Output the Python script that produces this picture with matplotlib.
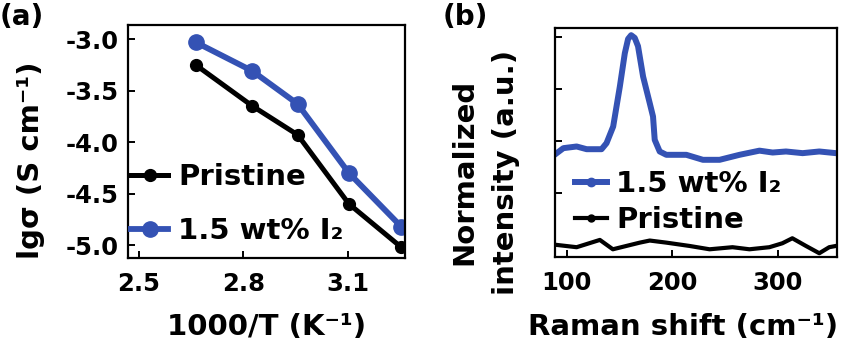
import matplotlib
matplotlib.use('Agg')
import matplotlib.pyplot as plt
from matplotlib.lines import Line2D

plt.rcParams['font.family'] = ['DejaVu Sans']
plt.rcParams['font.weight'] = 'bold'

# panel (a): conductivity vs inverse temperature
inv_t = [2.663, 2.826, 2.956, 3.103, 3.253]
lg_pristine = [-3.25, -3.65, -3.93, -4.60, -5.02]
lg_iodine = [-3.03, -3.31, -3.63, -4.30, -4.82]

# panel (b): raman spectra
raman_x_i2 = [90.6, 96.9, 109.4, 118.9, 133.0, 137.7, 144.0, 150.3, 155.0, 158.1,
              161.0, 164.4, 167.5, 172.3, 178.6, 181.7, 183.3, 188.0, 194.3, 213.2,
              228.9, 244.7, 263.5, 282.4, 294.9, 307.5, 323.2, 339.0, 354.7]
raman_y_i2 = [0.441, 0.465, 0.473, 0.460, 0.460, 0.489, 0.569, 0.761, 0.921, 0.990,
              1.008, 0.995, 0.955, 0.809, 0.681, 0.617, 0.505, 0.449, 0.433, 0.433,
              0.409, 0.409, 0.433, 0.453, 0.444, 0.449, 0.441, 0.449, 0.441]
raman_x_pr = [90.6, 109.4, 131.4, 143.7, 169.2, 178.6, 194.3, 216.3, 235.2, 256.9,
              272.9, 291.8, 304.1, 313.5, 326.4, 339.0, 348.4, 354.7]
raman_y_pr = [0.0, -0.011, 0.024, -0.021, 0.011, 0.021, 0.011, -0.005, -0.021, -0.011,
              -0.021, -0.011, 0.008, 0.032, -0.005, -0.040, -0.011, -0.005]

azul = '#3452b4'
fs_tick = 17.5
fs_label = 21
fs_leg = 21

fig = plt.figure(figsize=(8.5, 3.53), dpi=100)
ax1 = fig.add_axes([0.151, 0.269, 0.325, 0.660])
ax2 = fig.add_axes([0.653, 0.272, 0.332, 0.649])

# ---- (a)
ax1.plot(inv_t, lg_pristine, color='black', lw=3.6, marker='o', ms=8.5,
         solid_joinstyle='round')
ax1.plot(inv_t, lg_iodine, color=azul, lw=4.2, marker='o', ms=11,
         solid_joinstyle='round')
ax1.set_xlim(2.47, 3.263)
ax1.set_ylim(-5.126, -2.864)
ax1.set_xticks([2.5, 2.8, 3.1])
ax1.set_yticks([-3.0, -3.5, -4.0, -4.5, -5.0])
ax1.set_xticklabels(['2.5', '2.8', '3.1'])
ax1.set_yticklabels(['-3.0', '-3.5', '-4.0', '-4.5', '-5.0'])
ax1.set_xlabel('1000/T (K⁻¹)', fontsize=fs_label, fontweight='bold')
ax1.xaxis.set_label_coords(0.5, -0.296)
ax1.xaxis.label.set_va('center')
ax1.set_ylabel('lgσ (S cm⁻¹)', fontsize=fs_label, fontweight='bold')
ax1.yaxis.set_label_coords(-0.30, 0.42)
h1 = [Line2D([], [], color='black', lw=3.6, marker='o', ms=8.5),
      Line2D([], [], color=azul, lw=4.2, marker='o', ms=11)]
ax1.legend(h1, ['Pristine', '1.5 wt% I₂'], loc='lower left', frameon=False,
           fontsize=fs_leg, handlelength=1.25, handletextpad=0.35,
           borderaxespad=0.0, borderpad=0.2, labelspacing=0.9,
           bbox_to_anchor=(-0.01, 0.03))
fig.text(0.0, 0.952, '(a)', fontsize=20, fontweight='bold', va='center', ha='left')

# ---- (b)
ax2.plot(raman_x_i2, raman_y_i2, color=azul, lw=4.3, solid_joinstyle='round')
ax2.plot(raman_x_pr, raman_y_pr, color='black', lw=3.0, solid_joinstyle='round')
ax2.set_xlim(89, 356)
ax2.set_ylim(-0.058, 1.043)
ax2.set_xticks([100, 200, 300])
ax2.set_xticklabels(['100', '200', '300'])
ax2.set_yticks([0, 0.25, 0.5, 0.75, 1.0])
ax2.set_yticklabels([])
ax2.set_xlabel('Raman shift (cm⁻¹)', fontsize=fs_label, fontweight='bold')
ax2.xaxis.set_label_coords(0.455, -0.306)
ax2.xaxis.label.set_va('center')
ax2.text(-0.323, 0.37, 'Normalized', transform=ax2.transAxes, rotation=90,
         fontsize=fs_label, fontweight='bold', ha='center', va='center')
ax2.text(-0.174, 0.37, 'intensity (a.u.)', transform=ax2.transAxes, rotation=90,
         fontsize=fs_label, fontweight='bold', ha='center', va='center')
h2 = [Line2D([], [], color=azul, lw=4.3, marker='o', ms=6),
      Line2D([], [], color='black', lw=3.0, marker='o', ms=5)]
ax2.legend(h2, ['1.5 wt% I₂', 'Pristine'], loc='center left', frameon=False,
           fontsize=fs_leg, handlelength=1.1, handletextpad=0.3,
           labelspacing=0.28, bbox_to_anchor=(0.03, 0.24), borderaxespad=0.0)
fig.text(0.521, 0.952, '(b)', fontsize=20, fontweight='bold', va='center', ha='left')

for ax in (ax1, ax2):
    for s in ax.spines.values():
        s.set_linewidth(1.6)
    ax.tick_params(direction='in', length=5, width=1.4, labelsize=fs_tick,
                   top=False, right=False)
    ax.tick_params(axis='x', pad=10)
    ax.tick_params(axis='y', pad=7)

fig.savefig('out.png', dpi=100)
